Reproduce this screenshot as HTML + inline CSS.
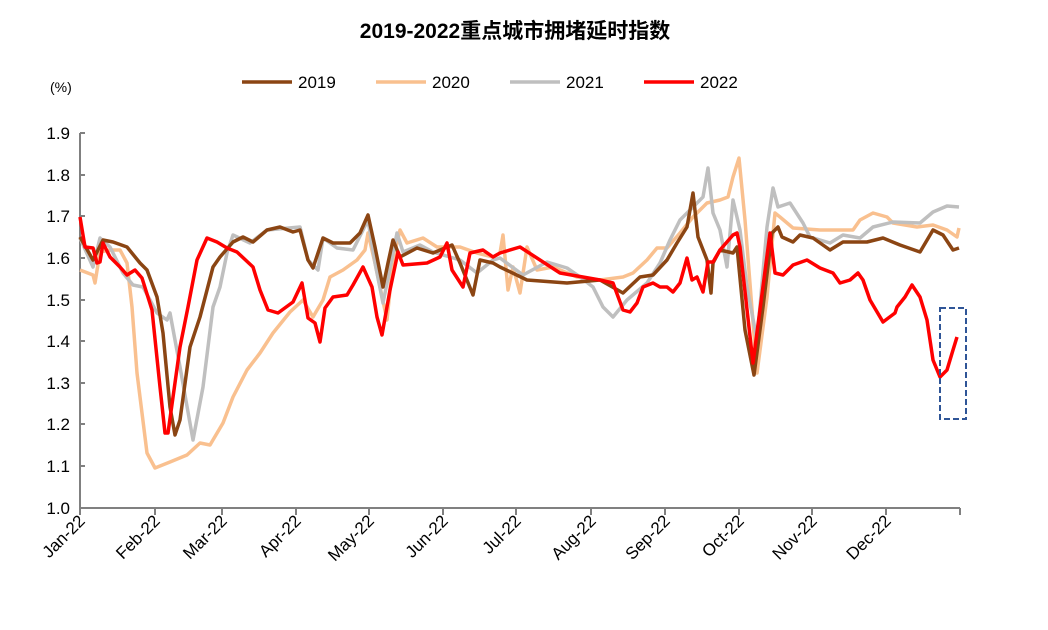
<!DOCTYPE html>
<html><head><meta charset="utf-8"><style>
body{margin:0;background:#fff;}
svg text{font-family:"Liberation Sans","Noto Sans CJK SC",sans-serif;}
</style></head><body>
<svg width="1048" height="625" viewBox="0 0 1048 625" xmlns="http://www.w3.org/2000/svg">
<rect width="1048" height="625" fill="#fff"/>
<text x="515" y="38" text-anchor="middle" font-size="21" font-weight="bold" fill="#000">2019-2022重点城市拥堵延时指数</text>
<text x="50" y="92" font-size="14" fill="#000">(%)</text>
<g font-size="17" fill="#000">
<line x1="242" y1="82" x2="292" y2="82" stroke="#8B4513" stroke-width="3.5"/><text x="298" y="88">2019</text>
<line x1="376" y1="82" x2="426" y2="82" stroke="#F9C08F" stroke-width="3.5"/><text x="432" y="88">2020</text>
<line x1="510" y1="82" x2="560" y2="82" stroke="#BFBFBF" stroke-width="3.5"/><text x="566" y="88">2021</text>
<line x1="644" y1="82" x2="694" y2="82" stroke="#FF0000" stroke-width="3.5"/><text x="700" y="88">2022</text>
</g>
<g stroke="#808080" stroke-width="2" fill="none">
<line x1="80" y1="133" x2="80" y2="508"/>
<line x1="80" y1="508" x2="960" y2="508"/>
<path d="M80 133h5M80 175h5M80 216h5M80 258h5M80 300h5M80 341h5M80 383h5M80 424h5M80 466h5"/>
<path d="M80 508v7M155 508v7M222 508v7M296 508v7M369 508v7M443 508v7M516 508v7M591 508v7M665 508v7M739 508v7M812 508v7M886 508v7M960 508v7"/>
</g>
<g font-size="17" fill="#000" text-anchor="end">
<text x="70" y="139">1.9</text><text x="70" y="181">1.8</text><text x="70" y="222">1.7</text><text x="70" y="264">1.6</text><text x="70" y="306">1.5</text><text x="70" y="347">1.4</text><text x="70" y="389">1.3</text><text x="70" y="430">1.2</text><text x="70" y="472">1.1</text><text x="70" y="514">1.0</text>
</g>
<g font-size="17" fill="#000" text-anchor="end">
<text transform="translate(86,522) rotate(-45)">Jan-22</text>
<text transform="translate(161,522) rotate(-45)">Feb-22</text>
<text transform="translate(228,522) rotate(-45)">Mar-22</text>
<text transform="translate(302,522) rotate(-45)">Apr-22</text>
<text transform="translate(375,522) rotate(-45)">May-22</text>
<text transform="translate(449,522) rotate(-45)">Jun-22</text>
<text transform="translate(522,522) rotate(-45)">Jul-22</text>
<text transform="translate(597,522) rotate(-45)">Aug-22</text>
<text transform="translate(671,522) rotate(-45)">Sep-22</text>
<text transform="translate(745,522) rotate(-45)">Oct-22</text>
<text transform="translate(818,522) rotate(-45)">Nov-22</text>
<text transform="translate(892,522) rotate(-45)">Dec-22</text>
</g>
<g fill="none" stroke-width="3.5" stroke-linejoin="round">
<polyline stroke="#F9C08F" points="80,270 93,275 95,283 100,252 110,250 120,250 127,263 132,307 137,373 147,453 155,468 170,462 187,455 200,443 210,445 223,423 233,397 247,370 260,353 273,333 290,312 303,300 313,317 323,300 330,277 343,270 357,260 365,250 368,233 375,263 387,320 393,260 400,230 407,243 423,238 437,247 460,247 477,253 493,257 500,253 503,235 508,290 513,267 520,293 527,247 537,270 553,267 577,277 600,280 623,277 633,273 647,260 657,248 667,248 680,233 693,217 707,203 720,200 728,197 733,177 739,158 745,220 757,373 767,297 775,213 780,217 793,228 820,230 853,230 860,220 873,213 887,217 893,223 917,227 933,225 947,230 957,237 959,228"/>
<polyline stroke="#BFBFBF" points="80,238 93,267 100,238 110,247 123,273 133,285 143,287 157,313 167,320 170,313 180,367 193,440 203,387 213,307 220,287 227,253 233,235 250,243 267,230 300,227 308,260 318,270 323,238 337,248 353,250 368,220 375,263 383,303 397,233 403,252 420,245 433,252 460,260 477,273 493,260 500,258 523,275 547,262 567,268 580,277 593,287 603,307 613,317 627,300 647,283 660,263 670,240 680,220 693,207 703,197 708,168 713,213 720,230 727,267 733,200 740,230 747,287 757,340 767,227 773,188 778,207 790,203 803,223 810,237 830,243 843,235 860,238 873,227 893,222 920,223 933,212 947,206 959,207"/>
<polyline stroke="#8B4513" points="80,237 93,260 103,240 113,242 127,247 140,263 147,270 157,297 163,333 170,407 175,435 180,420 190,347 200,317 213,267 220,257 233,242 243,237 253,242 267,230 280,227 293,232 300,230 308,260 313,268 323,238 333,243 350,243 360,233 368,215 375,247 383,287 388,263 393,240 400,257 417,248 433,253 452,245 460,263 473,295 480,260 493,263 500,267 527,280 567,283 600,280 623,293 640,277 653,275 667,260 677,243 687,227 693,193 698,237 707,260 711,293 713,263 720,250 733,253 737,247 745,330 754,375 763,307 772,233 778,227 782,237 793,242 800,235 813,238 830,250 843,242 867,242 883,238 900,245 920,252 933,230 943,235 953,250 959,248"/>
<polyline stroke="#FF0000" points="80,217 85,247 93,248 97,263 100,262 103,243 110,257 120,267 127,275 135,270 142,278 152,310 160,387 165,433 168,433 180,347 188,307 197,260 207,238 217,242 227,248 237,252 253,267 260,290 268,310 278,313 293,302 302,283 308,318 315,323 320,342 325,308 333,297 347,295 353,285 363,267 372,287 377,317 382,335 390,290 398,252 403,265 427,263 440,257 447,243 452,270 463,287 470,253 483,250 493,257 500,253 520,247 560,273 600,280 613,283 623,310 630,312 637,303 643,287 653,283 660,287 667,287 673,292 680,283 687,258 692,280 697,277 703,292 708,262 713,262 720,250 733,235 737,233 740,247 753,363 770,233 775,273 783,275 793,265 807,260 820,268 833,273 840,283 850,280 858,273 863,280 870,300 883,322 895,313 897,307 905,297 912,285 920,297 927,320 933,360 940,377 947,370 953,350 957,337"/>
</g>
<rect x="940" y="308" width="26" height="111" fill="none" stroke="#2F5597" stroke-width="2" stroke-dasharray="6,3"/>
</svg>
</body></html>
